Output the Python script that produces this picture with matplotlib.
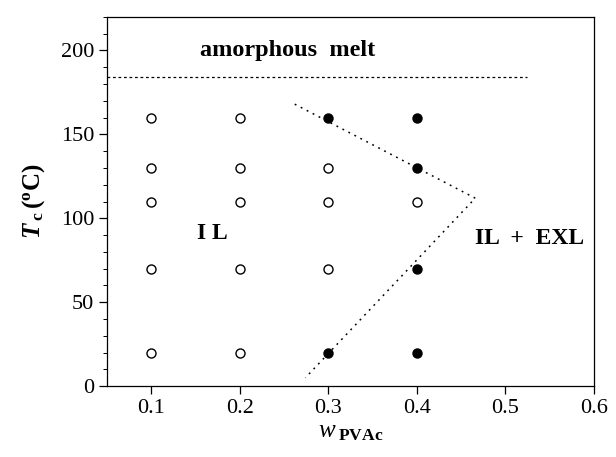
import matplotlib
matplotlib.use("Agg")
import matplotlib.pyplot as plt
from matplotlib.ticker import MultipleLocator

plt.rcParams['font.family'] = ['Liberation Serif', 'DejaVu Serif']
plt.rcParams['mathtext.fontset'] = 'custom'
plt.rcParams['mathtext.rm'] = 'Liberation Serif'
plt.rcParams['mathtext.it'] = 'Liberation Serif:italic'
plt.rcParams['mathtext.bf'] = 'Liberation Serif:bold'
plt.rcParams['mathtext.bfit'] = 'Liberation Serif:bold:italic'

# Single-phase (IL) samples: open circles
open_w = [0.1, 0.1, 0.1, 0.1, 0.1, 0.2, 0.2, 0.2, 0.2, 0.2, 0.3, 0.3, 0.3, 0.4]
open_T = [20, 70, 110, 130, 160, 20, 70, 110, 130, 160, 70, 110, 130, 110]

# Two-phase (IL + EXL) samples: filled circles
filled_w = [0.3, 0.3, 0.4, 0.4, 0.4, 0.4]
filled_T = [160, 20, 160, 130, 70, 20]

# Melt line and IL / IL+EXL boundary
melt_w = [0.05, 0.525]
melt_T = [184, 184]
bound_w = [0.262, 0.466, 0.274]
bound_T = [168, 112, 5]

fig, ax = plt.subplots(figsize=(6.16, 4.57), dpi=100)
fig.subplots_adjust(left=0.174, right=0.964, top=0.963, bottom=0.155)

ax.plot(melt_w, melt_T, linestyle=(0, (2.2, 2.2)), color='black', lw=0.9)
ax.plot(bound_w, bound_T, linestyle=(0, (1.2, 3.2)), color='black', lw=1.1)
ax.plot(open_w, open_T, 'o', mfc='white', mec='black', ms=6.5, mew=1.0, ls='none')
ax.plot(filled_w, filled_T, 'o', mfc='black', mec='black', ms=6.5, ls='none')

ax.text(0.254, 200, 'amorphous  melt', fontsize=17.5, fontweight='bold', ha='center', va='center')
ax.text(0.1685, 91, 'I L', fontsize=17, fontweight='bold', ha='center', va='center')
ax.text(0.527, 88, 'IL  +  EXL', fontsize=17, fontweight='bold', ha='center', va='center')

ax.set_xlim(0.05, 0.6)
ax.set_ylim(0, 220)
ax.set_xticks([0.1, 0.2, 0.3, 0.4, 0.5, 0.6])
ax.set_xticklabels(['0.1', '0.2', '0.3', '0.4', '0.5', '0.6'])
ax.set_yticks([0, 50, 100, 150, 200])
ax.yaxis.set_minor_locator(MultipleLocator(10))
ax.tick_params(axis='both', which='major', direction='out', length=6, width=0.9, labelsize=16)
ax.tick_params(axis='y', which='minor', direction='out', length=3, width=0.7)
ax.tick_params(top=False, right=False)

ax.set_xlabel(r'$\mathit{w}_{\;\mathbf{PVAc}}$', fontsize=18, labelpad=2)
ax.set_ylabel(r'$\mathbfit{T}_{\;\mathbf{c}}\,\mathbf{(^{o}C)}$', fontsize=18, labelpad=10)

for s in ax.spines.values():
    s.set_linewidth(0.9)

fig.savefig('out.png', dpi=100)
